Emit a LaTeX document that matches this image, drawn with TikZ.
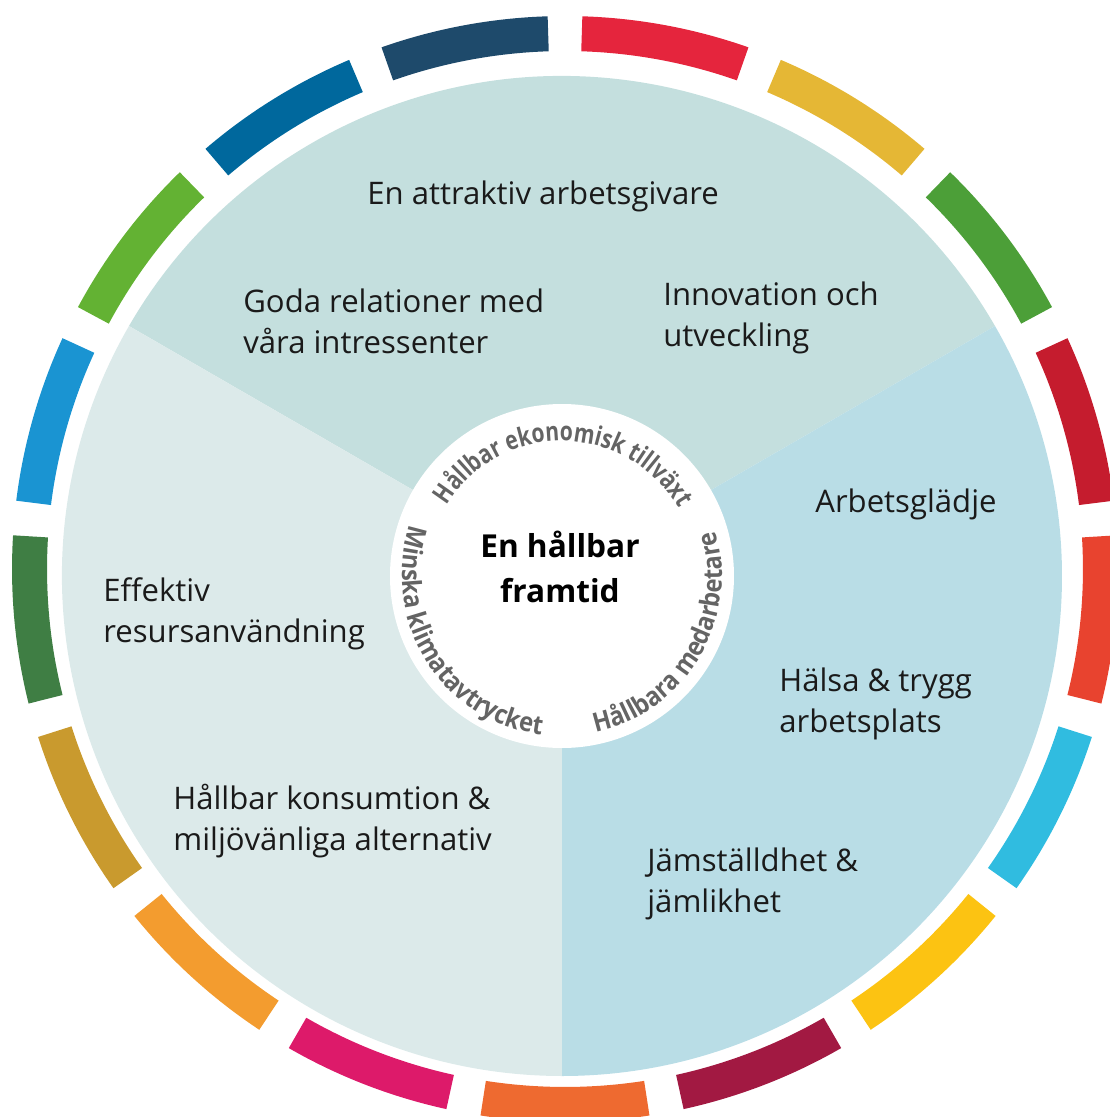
\documentclass[tikz,border=0pt]{standalone}
\usepackage{fontspec}
\setmainfont{Open Sans}
\newfontfamily\bagtopp[FakeStretch=0.80]{Open Sans}
\newfontfamily\bagbotten[FakeStretch=0.90]{Open Sans}
\usetikzlibrary{decorations.text}
\definecolor{cTopp}{HTML}{C4DFDE}
\definecolor{cHoger}{HTML}{B9DDE6}
\definecolor{cVanster}{HTML}{DCEAEA}
\definecolor{cText}{HTML}{1A1A1A}
\definecolor{cBage}{HTML}{646464}
% de sjutton målfärgerna, medurs från toppen
\definecolor{cMal01}{HTML}{E5253D}
\definecolor{cMal02}{HTML}{E5B735}
\definecolor{cMal03}{HTML}{4C9F38}
\definecolor{cMal04}{HTML}{C51C2E}
\definecolor{cMal05}{HTML}{E8432F}
\definecolor{cMal06}{HTML}{30BCE0}
\definecolor{cMal07}{HTML}{FCC312}
\definecolor{cMal08}{HTML}{A21942}
\definecolor{cMal09}{HTML}{EE6A30}
\definecolor{cMal10}{HTML}{DD1A6A}
\definecolor{cMal11}{HTML}{F39C2F}
\definecolor{cMal12}{HTML}{C99A2E}
\definecolor{cMal13}{HTML}{3F7E44}
\definecolor{cMal14}{HTML}{1A94D2}
\definecolor{cMal15}{HTML}{63B233}
\definecolor{cMal16}{HTML}{00689D}
\definecolor{cMal17}{HTML}{1E4A6B}

\begin{document}
\begin{tikzpicture}[
    x=0.02cm, y=0.02cm,
    sektor/.style={draw=none},
    lbl/.style={font=\fontsize{17.7}{23}\selectfont, text=cText, align=left,
                anchor=base west, inner sep=0pt},
    kärna/.style={font=\fontsize{18}{25.6}\selectfont\bfseries, text=black,
                 align=center, anchor=base, inner sep=0pt},
    bage/.style={decorate, decoration={text along path, text align=center,
                 text={#1}}},
]
\useasboundingbox (-562,-541) rectangle (548,576);

% ===================== Ring med målfärger =====================
\foreach \farg [count=\k] in {cMal01,cMal02,cMal03,cMal04,cMal05,cMal06,
    cMal07,cMal08,cMal09,cMal10,cMal11,cMal12,cMal13,cMal14,cMal15,cMal16,cMal17}
{
  \pgfmathsetmacro{\aa}{90-(\k-1)*360/17-1.8}
  \pgfmathsetmacro{\ab}{90-\k*360/17+1.8}
  \fill[\farg, shift={(3,7)}] (\aa:518) -- (\aa:553)
      arc[start angle=\aa, end angle=\ab, radius=553] -- (\ab:518)
      arc[start angle=\ab, end angle=\aa, radius=518] -- cycle;
}

% ===================== Tre sektorer =====================
\fill[sektor, cTopp] (0,0) -- (30:500) arc[start angle=30, end angle=150, radius=500] -- cycle;
\fill[sektor, cHoger] (0,0) -- (-90:500) arc[start angle=-90, end angle=30, radius=500] -- cycle;
\fill[sektor, cVanster] (0,0) -- (150:500) arc[start angle=150, end angle=270, radius=500] -- cycle;

% ===================== Mitten =====================
\fill[white] (0,0) circle[radius=172];
\node[kärna] (framtid) at (-2,-26) {En hållbar\\framtid};

\path[bage={|\bagtopp\fontsize{15}{18}\selectfont\bfseries\color{cBage}|Hållbar ekonomisk tillväxt}]
      (169.2:135) arc[start angle=169.2, end angle=9.2, radius=135];
\path[bage={|\bagbotten\fontsize{15}{18}\selectfont\bfseries\color{cBage}|Hållbara medarbetare}]
      (-110.7:160) arc[start angle=-110.7, end angle=49.3, radius=160];
\path[bage={|\bagbotten\fontsize{15}{18}\selectfont\bfseries\color{cBage}|Minska klimatavtrycket}]
      (132:160) arc[start angle=132, end angle=292, radius=160];

% ===================== Ekonomi =====================
\node[lbl] (attraktiv) at (-195,372) {En attraktiv arbetsgivare};
\node[lbl] (relationer) at (-319,223) {Goda relationer med\\våra intressenter};
\node[lbl] (innovation) at (101,230) {Innovation och\\utveckling};

% ===================== Medarbetare =====================
\node[lbl] (gladje) at (253,64) {Arbetsglädje};
\node[lbl] (halsa) at (217,-156) {Hälsa \& trygg\\arbetsplats};
\node[lbl] (jamstalldhet) at (85,-336) {Jämställdhet \&\\jämlikhet};

% ===================== Klimat =====================
\node[lbl] (resurs) at (-459,-66) {Effektiv\\resursanvändning};
\node[lbl] (konsumtion) at (-389,-274) {Hållbar konsumtion \&\\miljövänliga alternativ};

\end{tikzpicture}
\end{document}
